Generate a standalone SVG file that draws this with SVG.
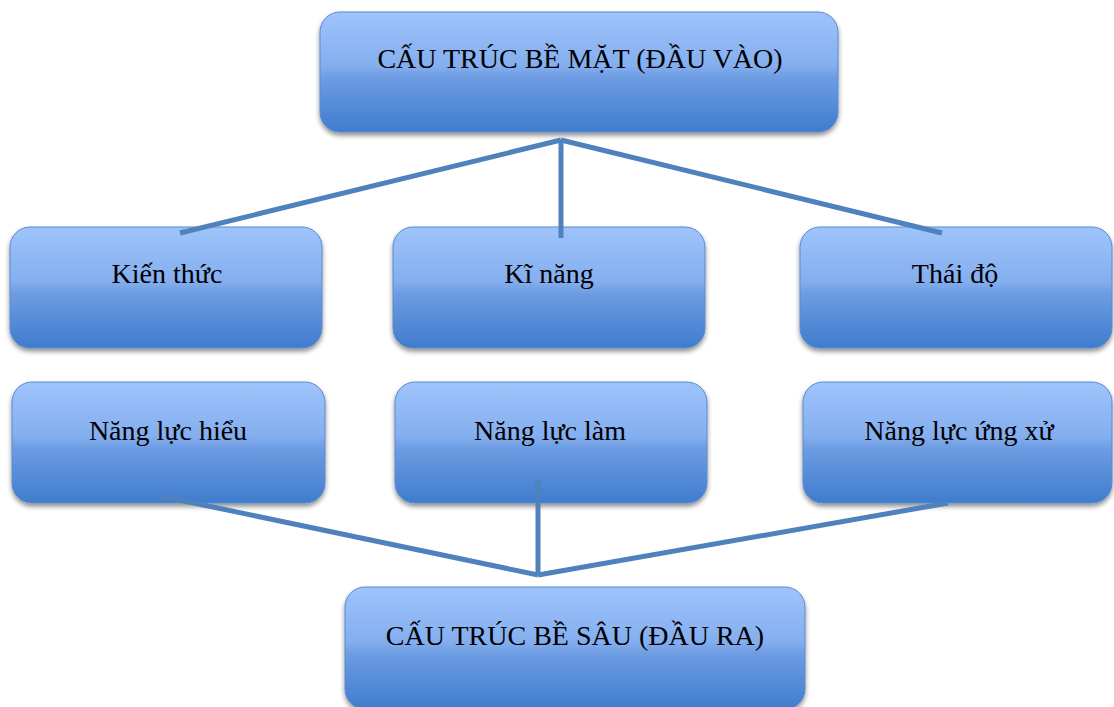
<svg xmlns="http://www.w3.org/2000/svg" width="1114" height="707" viewBox="0 0 1114 707">
  <defs>
    <linearGradient id="boxFill" x1="0" y1="0" x2="0" y2="1">
      <stop offset="0" stop-color="#9fc4fb"/>
      <stop offset="0.45" stop-color="#84aeef"/>
      <stop offset="0.55" stop-color="#6d9ce2"/>
      <stop offset="1" stop-color="#3f7ccd"/>
    </linearGradient>
    <filter id="shadow" x="-10%" y="-10%" width="120%" height="130%">
      <feGaussianBlur in="SourceAlpha" stdDeviation="2.5"/>
      <feOffset dx="0" dy="3" result="b"/>
      <feComponentTransfer><feFuncA type="linear" slope="0.45"/></feComponentTransfer>
      <feMerge><feMergeNode/><feMergeNode in="SourceGraphic"/></feMerge>
    </filter>
  </defs>
  <style>
    .box { fill: url(#boxFill); stroke: #5a8ad0; stroke-width: 1; filter: url(#shadow); }
    .lbl { font-family: "Liberation Serif", "DejaVu Serif", serif; font-size: 28px; fill: #000; text-anchor: middle; }
    .conn { stroke: #4f81bd; stroke-width: 5; fill: none; stroke-linecap: butt; }
  </style>
  <rect width="1114" height="707" fill="#ffffff"/>

  <g id="node-surface">
    <rect class="box" x="320" y="12" width="518" height="120" rx="20"/>
    <text class="lbl" x="580" y="68">CẤU TRÚC BỀ MẶT (ĐẦU VÀO)</text>
  </g>

  <g id="node-knowledge">
    <rect class="box" x="10" y="227" width="312" height="121" rx="20"/>
    <text class="lbl" x="167" y="283">Kiến thức</text>
  </g>
  <g id="node-skill">
    <rect class="box" x="393" y="227" width="312" height="121" rx="20"/>
    <text class="lbl" x="549" y="283">Kĩ năng</text>
  </g>
  <g id="node-attitude">
    <rect class="box" x="800" y="227" width="312" height="121" rx="20"/>
    <text class="lbl" x="955" y="283">Thái độ</text>
  </g>

  <g id="node-understand">
    <rect class="box" x="12" y="382" width="313" height="121" rx="20"/>
    <text class="lbl" x="168" y="440">Năng lực hiểu</text>
  </g>
  <g id="node-do">
    <rect class="box" x="395" y="382" width="312" height="121" rx="20"/>
    <text class="lbl" x="550" y="440">Năng lực làm</text>
  </g>
  <g id="node-behave">
    <rect class="box" x="803" y="382" width="309" height="121" rx="20"/>
    <text class="lbl" x="959" y="440">Năng lực ứng xử</text>
  </g>

  <g id="node-deep">
    <rect class="box" x="345" y="587" width="460" height="122" rx="20"/>
    <text class="lbl" x="575" y="645">CẤU TRÚC BỀ SÂU (ĐẦU RA)</text>
  </g>

  <!-- connectors, drawn over the node edges -->
  <g id="connectors">
    <line class="conn" x1="561" y1="140" x2="180" y2="233"/>
    <line class="conn" x1="561" y1="140" x2="561" y2="238"/>
    <line class="conn" x1="561" y1="140" x2="942" y2="233"/>
    <line class="conn" x1="160" y1="496" x2="538" y2="575"/>
    <line class="conn" x1="538" y1="480" x2="538" y2="575"/>
    <line class="conn" x1="948" y1="503" x2="538" y2="575"/>
  </g>
</svg>
